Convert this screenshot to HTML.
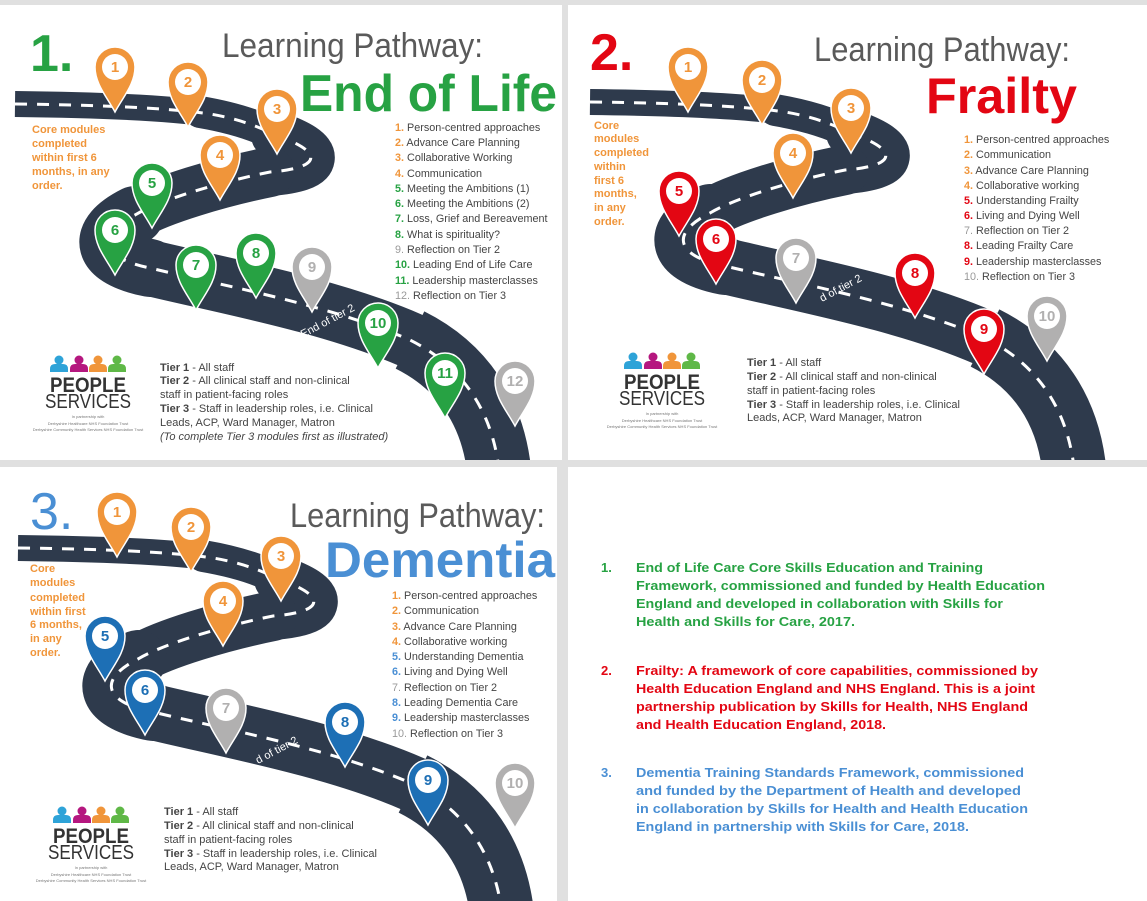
<!DOCTYPE html>
<html><head><meta charset="utf-8"><style>html,body{margin:0;padding:0;background:#e0e0e0}svg{display:block}</style></head>
<body>
<svg width="1147" height="901" viewBox="0 0 1147 901" xmlns="http://www.w3.org/2000/svg" font-family="Liberation Sans, sans-serif">
<defs>
<clipPath id="c1"><rect x="0" y="5" width="562" height="455"/></clipPath>
<clipPath id="c2"><rect x="568" y="5" width="579" height="455"/></clipPath>
<clipPath id="c3"><rect x="0" y="467" width="557" height="434"/></clipPath>
<g id="road" fill="none" stroke="#2e3a4c" stroke-linecap="round">
<path stroke-width="26" stroke-linecap="butt" d="M15,104 C100,105 170,108 210,114"/>
<path stroke-width="32" d="M200,112 C235,118 258,126 275,135"/>
<path stroke-width="48" d="M275,135 C325,152 322,168 270,172"/>
<path stroke-width="50" d="M270,172 C220,182 160,200 135,215"/>
<path stroke-width="58" d="M135,215 C95,235 100,258 150,268"/>
<path stroke-width="56" d="M150,268 C220,285 330,305 410,340"/>
<path stroke-width="64" stroke-linecap="butt" d="M410,340 C460,365 495,410 500,480"/>
<path stroke="#fff" stroke-width="3" stroke-linecap="butt" stroke-dasharray="12 10" d="M15,104 C100,105 170,108 210,114 C235,118 258,126 275,135 C325,152 322,168 270,172 C220,182 160,200 135,215 C95,235 100,258 150,268 C220,285 330,305 410,340 C460,365 495,410 500,480"/>
</g>
<path id="pin" stroke="#fff" stroke-width="1.5" d="M0,45 C-8,30 -20,17 -20,0 A20,20 0 1 1 20,0 C20,17 8,30 0,45Z"/>
<g id="logo">
<g fill="#2ea3d8"><circle cx="0" cy="0" r="4.5"/><path d="M-9,12 V9 Q-9,4 -4,4 H4 Q9,4 9,9 V12Z"/></g>
<g fill="#b5177f"><circle cx="20" cy="0" r="4.5"/><path d="M11,12 V9 Q11,4 16,4 H24 Q29,4 29,9 V12Z"/></g>
<g fill="#f0953a"><circle cx="39" cy="0" r="4.5"/><path d="M30,12 V9 Q30,4 35,4 H43 Q48,4 48,9 V12Z"/></g>
<g fill="#5fb847"><circle cx="58" cy="0" r="4.5"/><path d="M49,12 V9 Q49,4 54,4 H62 Q67,4 67,9 V12Z"/></g>
<text x="29" y="32" text-anchor="middle" font-size="21" font-weight="bold" fill="#333" textLength="76" lengthAdjust="spacingAndGlyphs">PEOPLE</text>
<text x="29" y="48" text-anchor="middle" font-size="20" fill="#333" textLength="86" lengthAdjust="spacingAndGlyphs">SERVICES</text>
<g font-size="4" fill="#777" text-anchor="middle"><text x="29" y="58">In partnership with</text><text x="29" y="65">Derbyshire Healthcare NHS Foundation Trust</text><text x="29" y="71">Derbyshire Community Health Services NHS Foundation Trust</text></g>
</g>
</defs>

<rect x="0" y="5" width="562" height="455" fill="#fff"/>
<rect x="568" y="5" width="579" height="455" fill="#fff"/>
<rect x="0" y="467" width="557" height="434" fill="#fff"/>
<rect x="568" y="467" width="579" height="434" fill="#fff"/>

<!-- PANEL 1 -->
<g clip-path="url(#c1)"><use href="#road" transform="translate(0,0)"/></g>
<text x="303" y="338" transform="rotate(-28 303 338)" font-size="11" fill="#fff">End of tier 2</text>
<text x="30" y="71" font-size="52" font-weight="bold" fill="#27a243">1.</text>
<text x="222" y="57" font-size="34" fill="#5a5a5a" textLength="261" lengthAdjust="spacingAndGlyphs">Learning Pathway:</text>
<text x="300" y="111" font-size="52" font-weight="bold" fill="#27a243" textLength="257" lengthAdjust="spacingAndGlyphs">End of Life</text>
<g font-size="11" font-weight="bold" fill="#f0953a"><text x="32" y="133">Core modules</text><text x="32" y="147">completed</text><text x="32" y="161">within first 6</text><text x="32" y="175">months, in any</text><text x="32" y="189">order.</text></g>
<g font-size="10.8" fill="#444">
<text x="395" y="131"><tspan fill="#f0953a" font-weight="bold">1.</tspan> Person-centred approaches</text>
<text x="395" y="146"><tspan fill="#f0953a" font-weight="bold">2.</tspan> Advance Care Planning</text>
<text x="395" y="161"><tspan fill="#f0953a" font-weight="bold">3.</tspan> Collaborative Working</text>
<text x="395" y="177"><tspan fill="#f0953a" font-weight="bold">4.</tspan> Communication</text>
<text x="395" y="192"><tspan fill="#27a243" font-weight="bold">5.</tspan> Meeting the Ambitions (1)</text>
<text x="395" y="207"><tspan fill="#27a243" font-weight="bold">6.</tspan> Meeting the Ambitions (2)</text>
<text x="395" y="222"><tspan fill="#27a243" font-weight="bold">7.</tspan> Loss, Grief and Bereavement</text>
<text x="395" y="238"><tspan fill="#27a243" font-weight="bold">8.</tspan> What is spirituality?</text>
<text x="395" y="253"><tspan fill="#999">9.</tspan> Reflection on Tier 2</text>
<text x="395" y="268"><tspan fill="#27a243" font-weight="bold">10.</tspan> Leading End of Life Care</text>
<text x="395" y="284"><tspan fill="#27a243" font-weight="bold">11.</tspan> Leadership masterclasses</text>
<text x="395" y="299"><tspan fill="#999">12.</tspan> Reflection on Tier 3</text>
</g>
<g font-size="11" fill="#444">
<text x="160" y="371"><tspan font-weight="bold">Tier 1</tspan> - All staff</text>
<text x="160" y="384"><tspan font-weight="bold">Tier 2</tspan> - All clinical staff and non-clinical</text>
<text x="160" y="398">staff in patient-facing roles</text>
<text x="160" y="412"><tspan font-weight="bold">Tier 3</tspan> - Staff in leadership roles, i.e. Clinical</text>
<text x="160" y="426">Leads, ACP, Ward Manager, Matron</text>
<text x="160" y="440" font-style="italic">(To complete Tier 3 modules first as illustrated)</text>
</g>
<use href="#logo" transform="translate(59,360)"/>
<g font-size="15" font-weight="bold" text-anchor="middle">
<use href="#pin" x="115" y="67" fill="#f0953a"/><circle cx="115" cy="67" r="13" fill="#fff"/><text x="115" y="72" fill="#f0953a">1</text>
<use href="#pin" x="188" y="82" fill="#f0953a"/><circle cx="188" cy="82" r="13" fill="#fff"/><text x="188" y="87" fill="#f0953a">2</text>
<use href="#pin" x="277" y="109" fill="#f0953a"/><circle cx="277" cy="109" r="13" fill="#fff"/><text x="277" y="114" fill="#f0953a">3</text>
<use href="#pin" x="220" y="155" fill="#f0953a"/><circle cx="220" cy="155" r="13" fill="#fff"/><text x="220" y="160" fill="#f0953a">4</text>
<use href="#pin" x="152" y="183" fill="#27a243"/><circle cx="152" cy="183" r="13" fill="#fff"/><text x="152" y="188" fill="#27a243">5</text>
<use href="#pin" x="115" y="230" fill="#27a243"/><circle cx="115" cy="230" r="13" fill="#fff"/><text x="115" y="235" fill="#27a243">6</text>
<use href="#pin" x="196" y="265" fill="#27a243"/><circle cx="196" cy="265" r="13" fill="#fff"/><text x="196" y="270" fill="#27a243">7</text>
<use href="#pin" x="256" y="253" fill="#27a243"/><circle cx="256" cy="253" r="13" fill="#fff"/><text x="256" y="258" fill="#27a243">8</text>
<use href="#pin" x="312" y="267" fill="#b1b0b0"/><circle cx="312" cy="267" r="13" fill="#fff"/><text x="312" y="272" fill="#b1b0b0">9</text>
<use href="#pin" x="378" y="323" fill="#27a243"/><circle cx="378" cy="323" r="13" fill="#fff"/><text x="378" y="328" fill="#27a243">10</text>
<use href="#pin" x="445" y="373" fill="#27a243"/><circle cx="445" cy="373" r="13" fill="#fff"/><text x="445" y="378" fill="#27a243">11</text>
<use href="#pin" x="515" y="381" fill="#b1b0b0"/><circle cx="515" cy="381" r="13" fill="#fff"/><text x="515" y="386" fill="#b1b0b0">12</text>
</g>

<!-- PANEL 2 -->
<g clip-path="url(#c2)"><use href="#road" transform="translate(575,-2)"/></g>
<text x="822" y="302" transform="rotate(-28 822 302)" font-size="11" fill="#fff">d of tier 2</text>
<text x="590" y="70" font-size="52" font-weight="bold" fill="#e30613">2.</text>
<text x="814" y="61" font-size="34" fill="#5a5a5a" textLength="256" lengthAdjust="spacingAndGlyphs">Learning Pathway:</text>
<text x="926" y="113" font-size="50" font-weight="bold" fill="#e30613" textLength="151" lengthAdjust="spacingAndGlyphs">Frailty</text>
<g font-size="11" font-weight="bold" fill="#f0953a"><text x="594" y="129">Core</text><text x="594" y="142">modules</text><text x="594" y="156">completed</text><text x="594" y="170">within</text><text x="594" y="184">first 6</text><text x="594" y="197">months,</text><text x="594" y="211">in any</text><text x="594" y="225">order.</text></g>
<g font-size="10.8" fill="#444">
<text x="964" y="143"><tspan fill="#f0953a" font-weight="bold">1.</tspan> Person-centred approaches</text>
<text x="964" y="158"><tspan fill="#f0953a" font-weight="bold">2.</tspan> Communication</text>
<text x="964" y="174"><tspan fill="#f0953a" font-weight="bold">3.</tspan> Advance Care Planning</text>
<text x="964" y="189"><tspan fill="#f0953a" font-weight="bold">4.</tspan> Collaborative working</text>
<text x="964" y="204"><tspan fill="#e30613" font-weight="bold">5.</tspan> Understanding Frailty</text>
<text x="964" y="219"><tspan fill="#e30613" font-weight="bold">6.</tspan> Living and Dying Well</text>
<text x="964" y="234"><tspan fill="#999">7.</tspan> Reflection on Tier 2</text>
<text x="964" y="249"><tspan fill="#e30613" font-weight="bold">8.</tspan> Leading Frailty Care</text>
<text x="964" y="265"><tspan fill="#e30613" font-weight="bold">9.</tspan> Leadership masterclasses</text>
<text x="964" y="280"><tspan fill="#999">10.</tspan> Reflection on Tier 3</text>
</g>
<g font-size="11" fill="#444">
<text x="747" y="366"><tspan font-weight="bold">Tier 1</tspan> - All staff</text>
<text x="747" y="380"><tspan font-weight="bold">Tier 2</tspan> - All clinical staff and non-clinical</text>
<text x="747" y="394">staff in patient-facing roles</text>
<text x="747" y="408"><tspan font-weight="bold">Tier 3</tspan> - Staff in leadership roles, i.e. Clinical</text>
<text x="747" y="421">Leads, ACP, Ward Manager, Matron</text>
</g>
<use href="#logo" transform="translate(633,357)"/>
<g font-size="15" font-weight="bold" text-anchor="middle">
<use href="#pin" x="688" y="67" fill="#f0953a"/><circle cx="688" cy="67" r="13" fill="#fff"/><text x="688" y="72" fill="#f0953a">1</text>
<use href="#pin" x="762" y="80" fill="#f0953a"/><circle cx="762" cy="80" r="13" fill="#fff"/><text x="762" y="85" fill="#f0953a">2</text>
<use href="#pin" x="851" y="108" fill="#f0953a"/><circle cx="851" cy="108" r="13" fill="#fff"/><text x="851" y="113" fill="#f0953a">3</text>
<use href="#pin" x="793" y="153" fill="#f0953a"/><circle cx="793" cy="153" r="13" fill="#fff"/><text x="793" y="158" fill="#f0953a">4</text>
<use href="#pin" x="679" y="191" fill="#e30613"/><circle cx="679" cy="191" r="13" fill="#fff"/><text x="679" y="196" fill="#e30613">5</text>
<use href="#pin" x="716" y="239" fill="#e30613"/><circle cx="716" cy="239" r="13" fill="#fff"/><text x="716" y="244" fill="#e30613">6</text>
<use href="#pin" x="796" y="258" fill="#b1b0b0"/><circle cx="796" cy="258" r="13" fill="#fff"/><text x="796" y="263" fill="#b1b0b0">7</text>
<use href="#pin" x="915" y="273" fill="#e30613"/><circle cx="915" cy="273" r="13" fill="#fff"/><text x="915" y="278" fill="#e30613">8</text>
<use href="#pin" x="984" y="329" fill="#e30613"/><circle cx="984" cy="329" r="13" fill="#fff"/><text x="984" y="334" fill="#e30613">9</text>
<use href="#pin" x="1047" y="316" fill="#b1b0b0"/><circle cx="1047" cy="316" r="13" fill="#fff"/><text x="1047" y="321" fill="#b1b0b0">10</text>
</g>

<!-- PANEL 3 -->
<g clip-path="url(#c3)"><use href="#road" transform="translate(3,444)"/></g>
<text x="258" y="764" transform="rotate(-28 258 764)" font-size="11" fill="#fff">d of tier 2</text>
<text x="30" y="529" font-size="52" fill="#4a8fd4">3.</text>
<text x="290" y="527" font-size="34" fill="#5a5a5a" textLength="255" lengthAdjust="spacingAndGlyphs">Learning Pathway:</text>
<text x="325" y="577" font-size="50" font-weight="bold" fill="#4a8fd4" textLength="230" lengthAdjust="spacingAndGlyphs">Dementia</text>
<g font-size="11" font-weight="bold" fill="#f0953a"><text x="30" y="572">Core</text><text x="30" y="586">modules</text><text x="30" y="601">completed</text><text x="30" y="615">within first</text><text x="30" y="628">6 months,</text><text x="30" y="642">in any</text><text x="30" y="656">order.</text></g>
<g font-size="10.8" fill="#444">
<text x="392" y="599"><tspan fill="#f0953a" font-weight="bold">1.</tspan> Person-centred approaches</text>
<text x="392" y="614"><tspan fill="#f0953a" font-weight="bold">2.</tspan> Communication</text>
<text x="392" y="630"><tspan fill="#f0953a" font-weight="bold">3.</tspan> Advance Care Planning</text>
<text x="392" y="645"><tspan fill="#f0953a" font-weight="bold">4.</tspan> Collaborative working</text>
<text x="392" y="660"><tspan fill="#4a8fd4" font-weight="bold">5.</tspan> Understanding Dementia</text>
<text x="392" y="675"><tspan fill="#4a8fd4" font-weight="bold">6.</tspan> Living and Dying Well</text>
<text x="392" y="691"><tspan fill="#999">7.</tspan> Reflection on Tier 2</text>
<text x="392" y="706"><tspan fill="#4a8fd4" font-weight="bold">8.</tspan> Leading Dementia Care</text>
<text x="392" y="721"><tspan fill="#4a8fd4" font-weight="bold">9.</tspan> Leadership masterclasses</text>
<text x="392" y="737"><tspan fill="#999">10.</tspan> Reflection on Tier 3</text>
</g>
<g font-size="11" fill="#444">
<text x="164" y="815"><tspan font-weight="bold">Tier 1</tspan> - All staff</text>
<text x="164" y="829"><tspan font-weight="bold">Tier 2</tspan> - All clinical staff and non-clinical</text>
<text x="164" y="843">staff in patient-facing roles</text>
<text x="164" y="857"><tspan font-weight="bold">Tier 3</tspan> - Staff in leadership roles, i.e. Clinical</text>
<text x="164" y="870">Leads, ACP, Ward Manager, Matron</text>
</g>
<use href="#logo" transform="translate(62,811)"/>
<g font-size="15" font-weight="bold" text-anchor="middle">
<use href="#pin" x="117" y="512" fill="#f0953a"/><circle cx="117" cy="512" r="13" fill="#fff"/><text x="117" y="517" fill="#f0953a">1</text>
<use href="#pin" x="191" y="527" fill="#f0953a"/><circle cx="191" cy="527" r="13" fill="#fff"/><text x="191" y="532" fill="#f0953a">2</text>
<use href="#pin" x="281" y="556" fill="#f0953a"/><circle cx="281" cy="556" r="13" fill="#fff"/><text x="281" y="561" fill="#f0953a">3</text>
<use href="#pin" x="223" y="601" fill="#f0953a"/><circle cx="223" cy="601" r="13" fill="#fff"/><text x="223" y="606" fill="#f0953a">4</text>
<use href="#pin" x="105" y="636" fill="#1d6fb5"/><circle cx="105" cy="636" r="13" fill="#fff"/><text x="105" y="641" fill="#1d6fb5">5</text>
<use href="#pin" x="145" y="690" fill="#1d6fb5"/><circle cx="145" cy="690" r="13" fill="#fff"/><text x="145" y="695" fill="#1d6fb5">6</text>
<use href="#pin" x="226" y="708" fill="#b1b0b0"/><circle cx="226" cy="708" r="13" fill="#fff"/><text x="226" y="713" fill="#b1b0b0">7</text>
<use href="#pin" x="345" y="722" fill="#1d6fb5"/><circle cx="345" cy="722" r="13" fill="#fff"/><text x="345" y="727" fill="#1d6fb5">8</text>
<use href="#pin" x="428" y="780" fill="#1d6fb5"/><circle cx="428" cy="780" r="13" fill="#fff"/><text x="428" y="785" fill="#1d6fb5">9</text>
<use href="#pin" x="515" y="783" fill="#b1b0b0"/><circle cx="515" cy="783" r="13" fill="#fff"/><text x="515" y="788" fill="#b1b0b0">10</text>
</g>

<!-- PANEL 4 -->
<g font-size="13" font-weight="bold">
<g fill="#27a243">
<text x="601" y="572">1.</text>
<text x="636" y="572" textLength="347" lengthAdjust="spacingAndGlyphs">End of Life Care Core Skills Education and Training</text>
<text x="636" y="590" textLength="409" lengthAdjust="spacingAndGlyphs">Framework, commissioned and funded by Health Education</text>
<text x="636" y="608" textLength="367" lengthAdjust="spacingAndGlyphs">England and developed in collaboration with Skills for</text>
<text x="636" y="626" textLength="219" lengthAdjust="spacingAndGlyphs">Health and Skills for Care, 2017.</text>
</g>
<g fill="#e30613">
<text x="601" y="675">2.</text>
<text x="636" y="675" textLength="402" lengthAdjust="spacingAndGlyphs">Frailty: A framework of core capabilities, commissioned by</text>
<text x="636" y="693" textLength="399" lengthAdjust="spacingAndGlyphs">Health Education England and NHS England. This is a joint</text>
<text x="636" y="711" textLength="392" lengthAdjust="spacingAndGlyphs">partnership publication by Skills for Health, NHS England</text>
<text x="636" y="729" textLength="250" lengthAdjust="spacingAndGlyphs">and Health Education England, 2018.</text>
</g>
<g fill="#4a8fd4">
<text x="601" y="777">3.</text>
<text x="636" y="777" textLength="388" lengthAdjust="spacingAndGlyphs">Dementia Training Standards Framework, commissioned</text>
<text x="636" y="795" textLength="385" lengthAdjust="spacingAndGlyphs">and funded by the Department of Health and developed</text>
<text x="636" y="813" textLength="392" lengthAdjust="spacingAndGlyphs">in collaboration by Skills for Health and Health Education</text>
<text x="636" y="831" textLength="333" lengthAdjust="spacingAndGlyphs">England in partnership with Skills for Care, 2018.</text>
</g>
</g>
</svg>
</body></html>
